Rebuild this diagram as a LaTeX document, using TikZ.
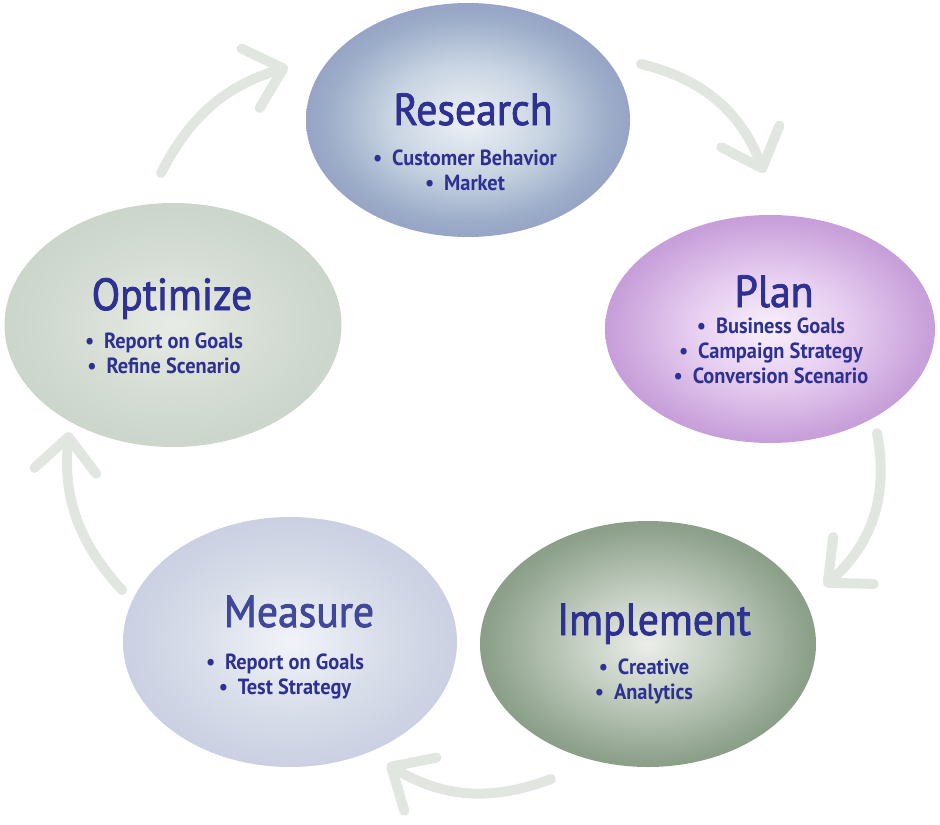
\documentclass[tikz,border=0pt]{standalone}
\usepackage{fontspec}
\setmainfont{PT Sans}
\newfontfamily\phasetitlefont{PT Sans}[FakeStretch=0.93, FakeBold=1.8]
\newfontfamily\phaselistfont{PT Sans Bold}[FakeStretch=0.93]
\usetikzlibrary{shapes.geometric}
\usetikzlibrary{arrows.meta}

\definecolor{phasetext}{RGB}{46,49,146}
\definecolor{measuretext}{RGB}{64,72,154}
\definecolor{arrowgrey}{RGB}{225,231,224}

\definecolor{resA}{RGB}{238,241,246}
\definecolor{resB}{RGB}{200,212,226}
\definecolor{resC}{RGB}{155,172,200}
\definecolor{resD}{RGB}{146,150,194}
\definecolor{resE}{RGB}{142,140,190}
\definecolor{plaA}{RGB}{248,240,252}
\definecolor{plaB}{RGB}{230,205,240}
\definecolor{plaC}{RGB}{200,160,218}
\definecolor{plaE}{RGB}{190,145,210}
\definecolor{impA}{RGB}{235,238,232}
\definecolor{impB}{RGB}{190,202,188}
\definecolor{impC}{RGB}{140,160,138}
\definecolor{impE}{RGB}{122,147,122}
\definecolor{meaA}{RGB}{241,243,248}
\definecolor{meaB}{RGB}{214,220,232}
\definecolor{meaC}{RGB}{200,204,225}
\definecolor{meaE}{RGB}{196,196,222}
\definecolor{optA}{RGB}{232,236,230}
\definecolor{optB}{RGB}{212,220,211}
\definecolor{optE}{RGB}{199,210,199}

\pgfdeclareradialshading{researchshade}{\pgfpoint{0bp}{0bp}}{color(0bp)=(resA); color(12bp)=(resB); color(22bp)=(resC); color(30bp)=(resD); color(38bp)=(resE); color(100bp)=(resE)}
\pgfdeclareradialshading{planshade}{\pgfpoint{0bp}{0bp}}{color(0bp)=(plaA); color(12bp)=(plaB); color(24bp)=(plaC); color(32bp)=(plaE); color(100bp)=(plaE)}
\pgfdeclareradialshading{implementshade}{\pgfpoint{0bp}{0bp}}{color(0bp)=(impA); color(12bp)=(impB); color(24bp)=(impC); color(36bp)=(impE); color(100bp)=(impE)}
\pgfdeclareradialshading{measureshade}{\pgfpoint{0bp}{0bp}}{color(0bp)=(meaA); color(15bp)=(meaB); color(28bp)=(meaC); color(38bp)=(meaE); color(100bp)=(meaE)}
\pgfdeclareradialshading{optimizeshade}{\pgfpoint{0bp}{0bp}}{color(0bp)=(optA); color(15bp)=(optB); color(30bp)=(optE); color(100bp)=(optE)}

\newcommand{\phaseitem}[1]{\textbullet\hspace{0.45em}#1}

\tikzset{
  phase/.style={ellipse, inner sep=0pt},
  phasetitle/.style={anchor=base, inner sep=0pt, text=phasetext, font=\phasetitlefont\fontsize{45}{45}\selectfont},
  phaselist/.style={anchor=base, inner sep=0pt, align=center, text=phasetext, font=\phaselistfont\fontsize{22}{25}\selectfont},
  cyclearrow/.style={line width=10bp, arrowgrey, line cap=round,
    -{Straight Barb[length=34bp, width=62bp, line cap=round, line join=round]}}
}

\begin{document}
\begin{tikzpicture}[x=1bp,y=-1bp]
  \useasboundingbox (0,0) rectangle (940,825);
  % the five phases
  \node[phase, shading=researchshade, minimum width=324bp, minimum height=234bp] (research) at (468,120) {};
  \node[phase, shading=planshade, minimum width=330bp, minimum height=228bp] (plan) at (770,329) {};
  \node[phase, shading=implementshade, minimum width=336bp, minimum height=246bp] (implement) at (648,644) {};
  \node[phase, shading=measureshade, minimum width=334bp, minimum height=250bp] (measure) at (290,642) {};
  \node[phase, shading=optimizeshade, minimum width=337bp, minimum height=244bp] (optimize) at (173,325) {};
  % titles and items (lists sit on their last line)
  \node[phasetitle] (researchtitle) at (473,125) {Research};
  \node[phaselist] (researchlist) at (465,190) {\phaseitem{Customer Behavior}\\\phaseitem{Market}};
  \node[phasetitle] (plantitle) at (774,307) {Plan};
  \node[phaselist] (planlist) at (771,383) {\phaseitem{Business Goals}\\\phaseitem{Campaign Strategy}\\\phaseitem{Conversion Scenario}};
  \node[phasetitle] (implementtitle) at (654,635) {Implement};
  \node[phaselist] (implementlist) at (644,699) {\phaseitem{Creative}\\\phaseitem{Analytics}};
  \node[phasetitle, text=measuretext] (measuretitle) at (299,627) {Measure};
  \node[phaselist] (measurelist) at (285,694) {\phaseitem{Report on Goals}\\\phaseitem{Test Strategy}};
  \node[phasetitle] (optimizetitle) at (172,310) {Optimize};
  \node[phaselist] (optimizelist) at (164,373) {\phaseitem{Report on Goals}\\\phaseitem{Refine Scenario}};
  % arrows between phases
  \coordinate (optimizeout) at (161,173);
  \coordinate (researchin) at (288,67);
  \coordinate (researchout) at (641,64);
  \coordinate (planin) at (764,173);
  \coordinate (planout) at (877,433);
  \coordinate (implementin) at (824,586);
  \coordinate (implementout) at (551,779);
  \coordinate (measurein) at (387,764);
  \coordinate (measureout) at (122,590);
  \coordinate (optimizein) at (69,432);
  \draw[cyclearrow] (optimizeout) to[bend left=23] (researchin);
  \draw[cyclearrow] (researchout) to[bend left=28] (planin);
  \draw[cyclearrow] (planout) to[bend left=30] (implementin);
  \draw[cyclearrow] (implementout) to[bend left=26] (measurein);
  \draw[cyclearrow] (measureout) to[bend left=24] (optimizein);
\end{tikzpicture}
\end{document}
